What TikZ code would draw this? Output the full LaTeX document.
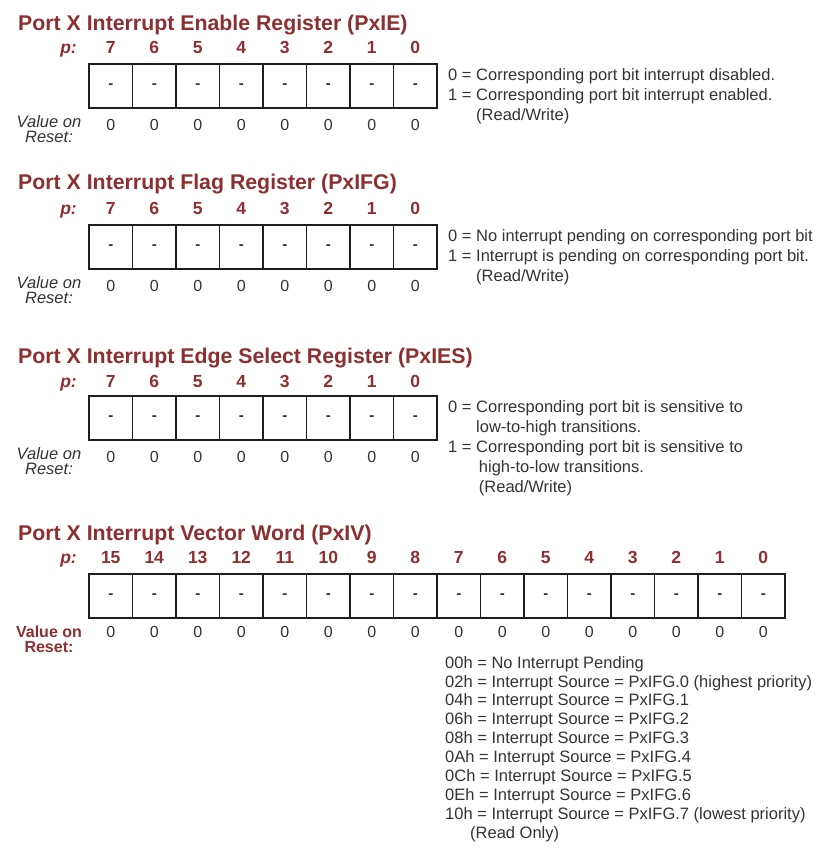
\documentclass[tikz,border=0pt]{standalone}
\usepackage{fontspec}
\setmainfont{Liberation Sans}
\usetikzlibrary{positioning}
\definecolor{regred}{HTML}{8E2F2F}
\definecolor{ink}{HTML}{333333}
\definecolor{frame}{HTML}{1E1E1E}
\newcommand{\fs}[2]{\fontsize{#1}{#2}\selectfont}

\begin{document}
\begin{tikzpicture}[x=1pt, y=-1pt,
  regtitle/.style={anchor=base west, inner sep=0pt, text=regred, font=\fs{21.3}{24}\bfseries},
  plabel/.style={anchor=base east, inner sep=0pt, text=regred, font=\fs{17.5}{20}\bfseries\itshape},
  bitnum/.style={anchor=base, inner sep=0pt, text=regred, font=\fs{17.5}{20}\bfseries},
  bitcell/.style={draw=frame, line width=1.5pt, minimum width=43.5pt, minimum height=44pt, inner sep=0pt, text=ink, font=\fs{15}{18}\bfseries},
  rstval/.style={inner sep=0pt, text=ink, font=\fs{16}{18}},
  rstlabel/.style={inner sep=0pt, align=center, text=ink, font=\fs{16.5}{15}\itshape},
  desc/.style={anchor=north west, inner sep=0pt, align=left, text=ink, font=\fs{16.5}{20}}
]
\useasboundingbox (0,0) rectangle (830,854);

% PxIE
\node[regtitle] (ie) at (18,30) {Port X Interrupt Enable Register (PxIE)};
\node[plabel] (iep) at (77,53) {p:};
\foreach \bit [count=\i] in {7,...,0} {
  \node[bitnum] (ien\bit) at (67.25+43.5*\i,53) {\bit};
  \node[bitcell] (ie\bit) at (67.25+43.5*\i,86) {-};
  \node[rstval] (ier\bit) at (67.25+43.5*\i,125) {0};
}
\node[rstlabel] (iel) at (49,129.5) {Value on\\Reset:};
\node[desc] (ied) at (448,68) {0 = Corresponding port bit interrupt disabled.\\
  1 = Corresponding port bit interrupt enabled.\\
  \hphantom{1 = }(Read/Write)};

% PxIFG
\node[regtitle] (ifg) at (18,189) {Port X Interrupt Flag Register (PxIFG)};
\node[plabel] (ifgp) at (77,214) {p:};
\foreach \bit [count=\i] in {7,...,0} {
  \node[bitnum] (ifgn\bit) at (67.25+43.5*\i,214) {\bit};
  \node[bitcell] (ifg\bit) at (67.25+43.5*\i,247) {-};
  \node[rstval] (ifgr\bit) at (67.25+43.5*\i,286) {0};
}
\node[rstlabel] (ifgl) at (49,290.5) {Value on\\Reset:};
\node[desc] (ifgd) at (448,229) {0 = No interrupt pending on corresponding port bit\\
  1 = Interrupt is pending on corresponding port bit.\\
  \hphantom{1 = }(Read/Write)};

% PxIES
\node[regtitle] (ies) at (18,363) {Port X Interrupt Edge Select Register (PxIES)};
\node[plabel] (iesp) at (77,387) {p:};
\foreach \bit [count=\i] in {7,...,0} {
  \node[bitnum] (iesn\bit) at (67.25+43.5*\i,387) {\bit};
  \node[bitcell] (ies\bit) at (67.25+43.5*\i,418) {-};
  \node[rstval] (iesr\bit) at (67.25+43.5*\i,457) {0};
}
\node[rstlabel] (iesl) at (49,461.5) {Value on\\Reset:};
\node[desc] (iesd) at (448,400) {0 = Corresponding port bit is sensitive to\\
  \hphantom{0 = }low-to-high transitions.\\
  1 = Corresponding port bit is sensitive to\\
  \hphantom{1 = }\,high-to-low transitions.\\
  \hphantom{1 = }\,(Read/Write)};

% PxIV
\node[regtitle] (iv) at (18,540) {Port X Interrupt Vector Word (PxIV)};
\node[plabel] (ivp) at (77,563) {p:};
\foreach \bit [count=\i] in {15,...,0} {
  \node[bitnum] (ivn\bit) at (67.25+43.5*\i,563) {\bit};
  \node[bitcell] (iv\bit) at (67.25+43.5*\i,596) {-};
  \node[rstval] (ivr\bit) at (67.25+43.5*\i,632) {0};
}
\node[rstlabel, text=regred, font=\fs{16}{15}\bfseries] (ivl) at (49,639) {Value on\\Reset:};
\node[desc, font=\fs{16.5}{18.9}] (ivd) at (445,656) {00h = No Interrupt Pending\\
  02h = Interrupt Source = PxIFG.0 (highest priority)\\
  04h = Interrupt Source = PxIFG.1\\
  06h = Interrupt Source = PxIFG.2\\
  08h = Interrupt Source = PxIFG.3\\
  0Ah = Interrupt Source = PxIFG.4\\
  0Ch = Interrupt Source = PxIFG.5\\
  0Eh = Interrupt Source = PxIFG.6\\
  10h = Interrupt Source = PxIFG.7 (lowest priority)\\
  \hspace*{25pt}(Read Only)};
\end{tikzpicture}
\end{document}
